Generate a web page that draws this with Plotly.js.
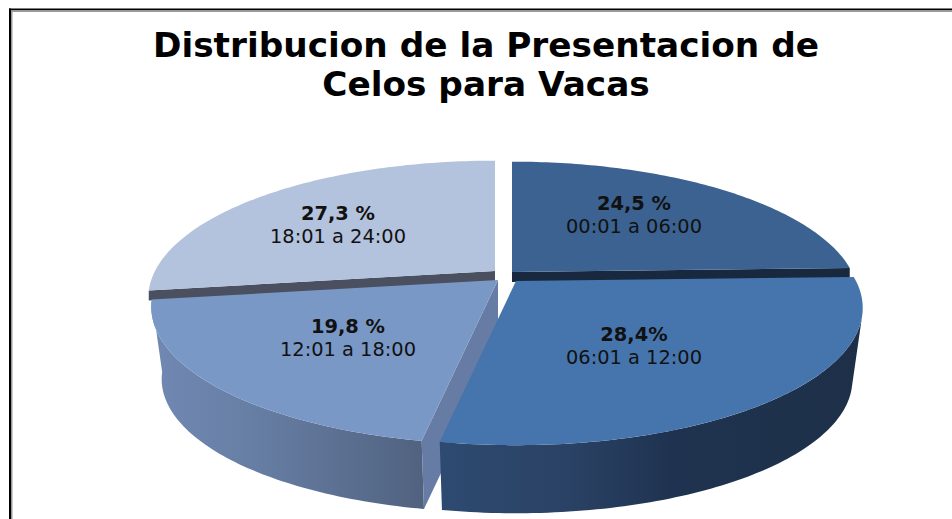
<!DOCTYPE html>
<html>
<head>
<meta charset="utf-8">
<script src="https://cdn.plot.ly/plotly-3.0.1.min.js"></script>
<style>html,body{margin:0;padding:0;background:#fff;overflow:hidden}#chart{width:952px;height:519px}</style>
</head>
<body>
<div id="chart"></div>
<script>
// ---- data ----
const categories = ['00:01 a 06:00', '06:01 a 12:00', '12:01 a 18:00', '18:01 a 24:00'];
const shares = [24.5, 28.4, 19.8, 27.3];
const shareLabels = ['24,5 %', '28,4%', '19,8 %', '27,3 %'];
const chartTitle = 'Distribucion de la Presentacion de<br>Celos para Vacas';

// ---- styles ----
const topColors = ['#3b6290', '#4675ae', '#7a98c6', '#b3c2dd'];
const edgeColors = ['#17283f', null, null, '#4a5060'];
const apexX = [512, 516, 498, 495];
const apexY = [272, 281, 280, 271];
const labelX = [634, 634, 348, 338];
const labelY = [216, 347, 339, 226];

// ---- projection of the tilted pie ----
const R = 340, H = 132, K = 0.196, LOWER = 0.97, DEPTH = 73;
function project(i, deg, lower) {
  const t = deg * Math.PI / 180, u = Math.sin(t), v = Math.cos(t), w = 1 + K * v;
  const s = lower ? LOWER : 1;
  return [apexX[i] + s * R * u / w, apexY[i] + (lower ? DEPTH : 0) - s * H * v / w];
}
function arc(i, a, b, lower) {
  const out = [], n = Math.max(2, Math.ceil(Math.abs(b - a)));
  for (let k = 0; k <= n; k++) out.push(project(i, a + (b - a) * k / n, lower));
  return out;
}
const total = shares.reduce((p, c) => p + c, 0);
const starts = [], ends = [];
shares.reduce((acc, s, i) => { starts[i] = acc; ends[i] = acc + s / total * 360; return ends[i]; }, 0);

function poly(pts, color, gradient) {
  const tr = { x: pts.map(p => p[0]), y: pts.map(p => p[1]), type: 'scatter', mode: 'none',
    fill: 'toself', fillcolor: color, hoverinfo: 'skip', showlegend: false };
  if (gradient) tr.fillgradient = { type: 'horizontal', colorscale: gradient };
  return tr;
}
function topFace(i) { return poly([[apexX[i], apexY[i]], ...arc(i, starts[i], ends[i], false)], topColors[i]); }
function endWall(i, deg, thick) {
  const a = [apexX[i], apexY[i]], b = project(i, deg, false);
  return poly([a, b, [b[0], b[1] + thick], [a[0], a[1] + thick]], edgeColors[i]);
}
function rimWall(i, a, b, gradient) {
  return poly([...arc(i, a, b, false), ...arc(i, b, a, true)], '#1f3350', gradient);
}
function cutWall(i, deg) {
  const a = [apexX[i], apexY[i]], b = project(i, deg, false), c = project(i, deg, true);
  return poly([a, b, c, [apexX[i], apexY[i] + DEPTH]], '#677ca4');
}

const traces = [
  endWall(3, starts[3], 10), topFace(3),
  endWall(0, ends[0], 10), topFace(0),
  rimWall(2, starts[2], ends[2], [[0, '#7189b3'], [0.4, '#667da3'], [1, '#50627f']]),
  cutWall(2, starts[2]), topFace(2),
  rimWall(1, 105, ends[1], [[0, '#2e4a70'], [0.3, '#2a4265'], [0.55, '#1f3350'], [1, '#1e3048']]),
  topFace(1)
];

const annotations = categories.map((c, i) => ({
  x: labelX[i], y: labelY[i], xref: 'x', yref: 'y', showarrow: false,
  text: '<b>' + shareLabels[i] + '</b><br>' + c, align: 'center',
  font: { family: 'DejaVu Sans, sans-serif', size: 19.4, color: '#111' }
}));

const frame = [
  { type: 'rect', xref: 'x', yref: 'y', x0: 11, x1: 952, y0: 10, y1: 12, fillcolor: '#999', line: { width: 0 } },
  { type: 'rect', xref: 'x', yref: 'y', x0: 11, x1: 12.5, y0: 10, y1: 519, fillcolor: '#999', line: { width: 0 } },
  { type: 'rect', xref: 'x', yref: 'y', x0: 9, x1: 952, y0: 8.5, y1: 10, fillcolor: '#000', line: { width: 0 } },
  { type: 'rect', xref: 'x', yref: 'y', x0: 9, x1: 11, y0: 8.5, y1: 519, fillcolor: '#000', line: { width: 0 } }
];

Plotly.newPlot('chart', traces, {
  width: 952, height: 519, margin: { l: 0, r: 0, t: 0, b: 0 },
  paper_bgcolor: '#fff', plot_bgcolor: '#fff', showlegend: false,
  xaxis: { range: [0, 952], visible: false, fixedrange: true },
  yaxis: { range: [519, 0], visible: false, fixedrange: true },
  title: { text: chartTitle, x: 0.5105, xanchor: 'center', y: 0.89, yanchor: 'top',
    font: { family: 'DejaVu Sans, sans-serif', size: 34.3, color: '#000', weight: 700 } },
  annotations: annotations, shapes: frame
}, { displayModeBar: false, staticPlot: true }).then(() => {
  // tighter line spacing than the library default
  document.querySelectorAll('.gtitle tspan.line').forEach((t, k) => { if (k) t.setAttribute('dy', '39px'); });
  document.querySelectorAll('.annotation-text tspan.line').forEach((t) => {
    if (t.getAttribute('dy') && parseFloat(t.getAttribute('dy')) > 0) t.setAttribute('dy', '23px');
  });
});
</script>
</body>
</html>
